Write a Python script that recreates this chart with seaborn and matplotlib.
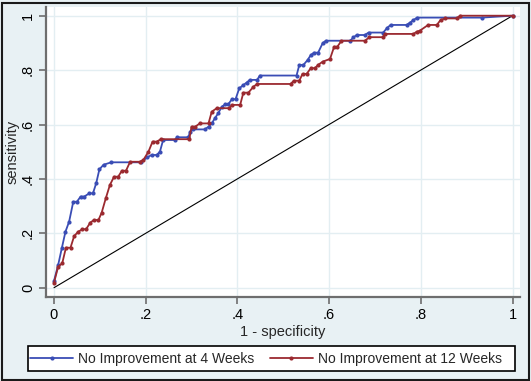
import pandas as pd
import seaborn as sns
import matplotlib.pyplot as plt
from matplotlib.patches import Rectangle

# ROC points
blue_x = [0, 0.009, 0.017, 0.025, 0.033, 0.042, 0.05, 0.058, 0.066, 0.077, 0.085, 0.092, 0.099,
          0.108, 0.125, 0.19, 0.203, 0.213, 0.224, 0.231, 0.238, 0.264, 0.268, 0.293, 0.297, 0.303,
          0.329, 0.337, 0.344, 0.351, 0.358, 0.366, 0.373, 0.38, 0.388, 0.396, 0.404, 0.413, 0.42,
          0.427, 0.443, 0.449, 0.529, 0.535, 0.544, 0.553, 0.56, 0.567, 0.576, 0.586, 0.593, 0.646,
          0.653, 0.66, 0.678, 0.686, 0.718, 0.726, 0.734, 0.769, 0.776, 0.784, 0.792, 0.933, 1.0]
blue_y = [0.025, 0.083, 0.145, 0.206, 0.243, 0.316, 0.316, 0.335, 0.335, 0.347, 0.347, 0.384, 0.435,
          0.452, 0.461, 0.461, 0.479, 0.488, 0.488, 0.5, 0.543, 0.543, 0.553, 0.553, 0.574, 0.582,
          0.582, 0.592, 0.604, 0.623, 0.641, 0.665, 0.674, 0.674, 0.693, 0.693, 0.733, 0.745, 0.754,
          0.764, 0.764, 0.78, 0.78, 0.819, 0.819, 0.837, 0.855, 0.864, 0.864, 0.899, 0.908, 0.908,
          0.92, 0.929, 0.929, 0.938, 0.938, 0.954, 0.966, 0.966, 0.974, 0.984, 0.993, 0.993, 1.0]

red_x = [0, 0.009, 0.018, 0.026, 0.036, 0.044, 0.053, 0.062, 0.07, 0.079, 0.087, 0.097, 0.104,
         0.113, 0.122, 0.131, 0.14, 0.148, 0.157, 0.166, 0.188, 0.195, 0.206, 0.215, 0.224, 0.233,
         0.295, 0.3, 0.308, 0.318, 0.337, 0.344, 0.355, 0.382, 0.388, 0.406, 0.413, 0.424, 0.435,
         0.443, 0.516, 0.523, 0.535, 0.542, 0.551, 0.56, 0.569, 0.576, 0.586, 0.602, 0.611, 0.618,
         0.627, 0.678, 0.688, 0.717, 0.722, 0.784, 0.791, 0.798, 0.816, 0.835, 0.843, 0.853, 0.878,
         0.886, 1.0]
red_y = [0.018, 0.077, 0.09, 0.147, 0.147, 0.19, 0.206, 0.215, 0.215, 0.239, 0.249, 0.249, 0.276,
         0.329, 0.378, 0.408, 0.408, 0.43, 0.43, 0.463, 0.463, 0.47, 0.5, 0.537, 0.537, 0.546,
         0.546, 0.592, 0.592, 0.604, 0.604, 0.647, 0.66, 0.66, 0.672, 0.672, 0.717, 0.717, 0.739,
         0.749, 0.749, 0.761, 0.761, 0.786, 0.786, 0.807, 0.807, 0.819, 0.831, 0.841, 0.886, 0.886,
         0.908, 0.908, 0.921, 0.921, 0.933, 0.933, 0.941, 0.945, 0.966, 0.966, 0.984, 0.99, 0.99,
         1.0, 1.0]

ticks = [0, 0.2, 0.4, 0.6, 0.8, 1]
tick_labels = ['0', '.2', '.4', '.6', '.8', '1']

blue_df = pd.DataFrame({'fpr': blue_x, 'tpr': blue_y})
red_df = pd.DataFrame({'fpr': red_x, 'tpr': red_y})

sns.set_style('white')
plt.rcParams['font.family'] = ['Liberation Sans', 'DejaVu Sans']

bg = '#e8f1f4'
fig = plt.figure(figsize=(5.31, 3.81), dpi=100, facecolor=bg)
ax = fig.add_axes([46 / 531, 1 - 296.7 / 381, 474 / 531, 289.7 / 381])
ax.set_facecolor('white')

ax.grid(True, color='#e3eef2', linewidth=1)
ax.set_axisbelow(True)

ax.plot([0, 1], [0, 1], color='black', linewidth=0.8, zorder=2)
sns.lineplot(data=blue_df, x='fpr', y='tpr', sort=False, estimator=None, ax=ax,
             color='#3a4db5', linewidth=1.3, marker='o', markersize=3, markeredgewidth=0,
             label='No Improvement at 4 Weeks', zorder=3)
sns.lineplot(data=red_df, x='fpr', y='tpr', sort=False, estimator=None, ax=ax,
             color='#9b2a30', linewidth=1.3, marker='o', markersize=3, markeredgewidth=0,
             label='No Improvement at 12 Weeks', zorder=4)

ax.set_xlim(-8 / 458.5, 1 + 7.5 / 458.5)
ax.set_ylim(-9 / 272, 1 + 8.7 / 272)
ax.set_xticks(ticks)
ax.set_xticklabels(tick_labels)
ax.set_yticks(ticks)
ax.set_yticklabels(tick_labels, rotation=90, va='center')
ax.tick_params(axis='both', direction='out', length=5, width=1.2, color='#6e6e6e',
               labelsize=10.5, labelcolor='black', pad=3, left=True, bottom=True)

for side in ['top', 'right']:
    ax.spines[side].set_visible(False)
for side in ['left', 'bottom']:
    ax.spines[side].set_color('#6e6e6e')
    ax.spines[side].set_linewidth(1.6)

ax.set_xlabel('1 - specificity', fontsize=10.5, labelpad=2)
ax.set_ylabel('sensitivity', fontsize=10.5, labelpad=1)

handles, labels = ax.get_legend_handles_labels()
ax.get_legend().remove()

# legend box drawn separately so the padding can follow the reference
fig.patches.append(Rectangle((28 / 531, 1 - 371 / 381), 487 / 531, 25 / 381,
                             transform=fig.transFigure, facecolor='white',
                             edgecolor='black', linewidth=1.2, zorder=1))
fig.legend(handles, labels, ncol=2, loc='center left',
           bbox_to_anchor=(30 / 531, 1 - 358.5 / 381), frameon=False,
           fontsize=10, handlelength=3.1, handletextpad=0.36, borderpad=0,
           columnspacing=1.1, borderaxespad=0)

# outer frame of the graph region
fig.patches.append(Rectangle((1.5 / 531, 1.5 / 381), 527 / 531, 377 / 381, transform=fig.transFigure,
                             fill=False, edgecolor='#1a1a1a', linewidth=1.5))

fig.savefig('out.png', dpi=100, facecolor=bg)
